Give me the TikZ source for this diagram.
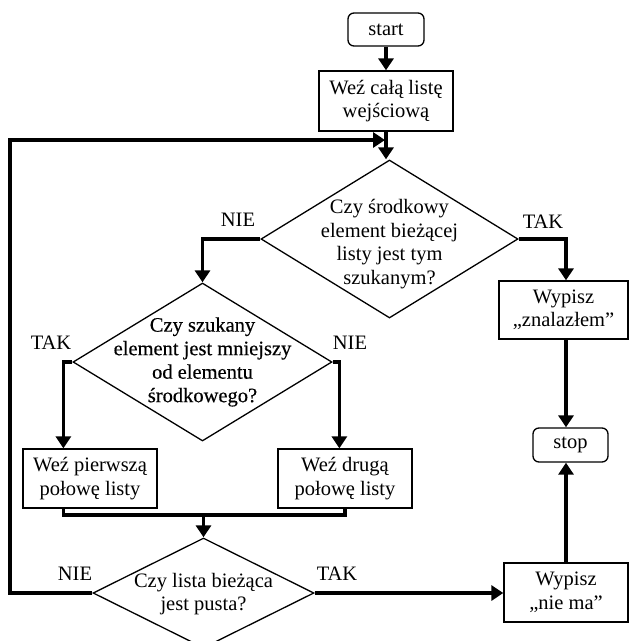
\documentclass[tikz,border=0pt]{standalone}
\usepackage{fontspec}
\setmainfont{Liberation Serif}
\newfontfamily\fakebold[FakeBold=0.4]{Liberation Serif}
\usetikzlibrary{arrows.meta,shapes.geometric,calc}
\begin{document}
\begin{tikzpicture}[x=1pt,y=-1pt,
  font=\fontsize{20.5}{23.5}\selectfont,
  box/.style={draw, line width=1.3pt, align=center, inner sep=0pt},
  rbox/.style={box, rounded corners=6pt},
  dia/.style={draw, diamond, line width=1.3pt, inner sep=0pt},
  txt/.style={align=center, inner sep=0pt},
  conn/.style={line width=3.5pt},
  arr/.style={conn, -{Triangle[length=12pt,width=15pt]}}
]
\useasboundingbox (0,0) rectangle (629,641);
\clip (0,0) rectangle (629,641);

\node[rbox, minimum width=76, minimum height=33] (start) at (386,29.5) {start};
\node[box, minimum width=134, minimum height=60] (b1) at (386,101) {Weź całą listę\\wejściową};

\node[dia, minimum width=257, minimum height=158] (d1) at (389.5,239) {};
\node[txt] (d1t) at (389.5,244) {Czy środkowy\\element bieżącej\\listy jest tym\\szukanym?};

\node[dia, minimum width=259, minimum height=158] (d2) at (202.5,362) {};
\node[txt, font=\fakebold\fontsize{20.5}{23.5}\selectfont] (d2t) at (202.5,362) {Czy szukany\\element jest mniejszy\\od elementu\\środkowego?};

\node[box, minimum width=134, minimum height=59] (p1) at (90,478.5) {Weź pierwszą\\połowę listy};
\node[box, minimum width=134, minimum height=59] (p2) at (345,478.5) {Weź drugą\\połowę listy};

\node[dia, minimum width=221, minimum height=110] (d3) at (203.5,593) {};
\node[txt] (d3t) at (203.5,594) {Czy lista bieżąca\\jest pusta?};

\node[box, minimum width=129, minimum height=58] (zn) at (563.5,310) {Wypisz\\„znalazłem”};
\node[rbox, minimum width=75, minimum height=34] (st) at (570.5,445) {stop};
\node[box, minimum width=124, minimum height=59] (nm) at (566,592.5) {Wypisz\\„nie ma”};

% labels
\node[txt] (l1) at (238,220) {NIE};
\node[txt] (l2) at (543,222) {TAK};
\node[txt] (l3) at (51,343) {TAK};
\node[txt] (l4) at (350,343) {NIE};
\node[txt] (l5) at (75,574) {NIE};
\node[txt] (l6) at (337,574) {TAK};

% connectors
\draw[arr] (start.south) -- (b1.north);
\draw[arr] (b1.south) -- (b1.south |- d1.north);
\coordinate (lt) at (10,140);
\draw[arr] (d3.west) -| (lt) -- ($(lt -| b1.south)+(-1,0)$);
\draw[arr] (d1.west) -| (d2.north);
\draw[arr] (d2.west) -| ([xshift=41pt]p1.north west);
\draw[arr] (d2.east) -| ([xshift=62pt]p2.north west);
\coordinate (mg) at (d3.north |- 0,515);
\draw[conn] ([xshift=41pt]p1.south west) |- (mg) -| (p2.south);
\draw[arr] (mg) -- (d3.north);
\draw[arr] (d3.east) -- (d3.east -| nm.west);
\draw[arr] (nm.north) -- (nm.north |- st.south);
\draw[arr] (zn.south -| nm.north) -- (st.north -| nm.north);
\draw[arr] (d1.east) -| (zn.north -| nm.north);
\end{tikzpicture}
\end{document}
